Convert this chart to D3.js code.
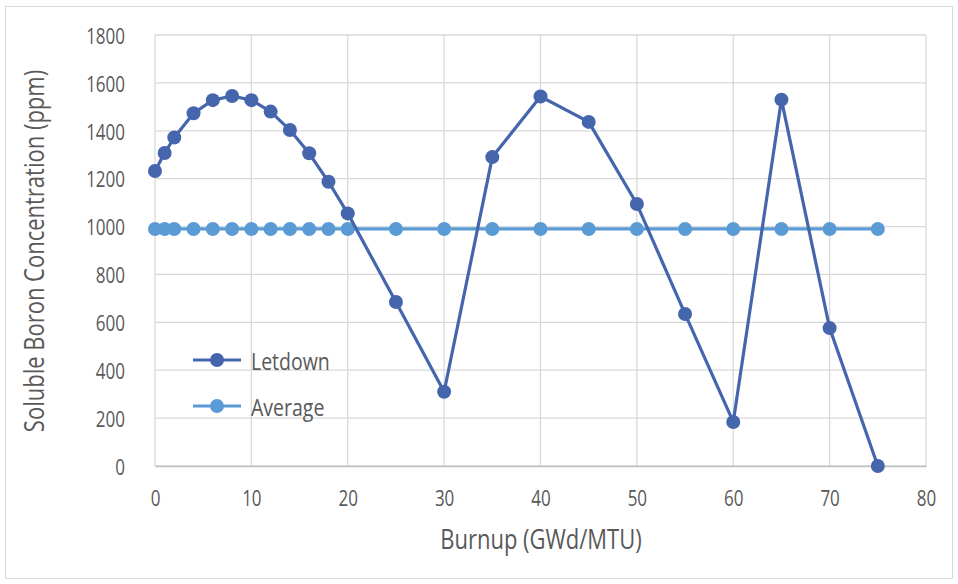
<!DOCTYPE html>
<html><head><meta charset="utf-8">
<script src="https://cdn.jsdelivr.net/npm/d3@7"></script>
<style>body{margin:0;background:#fff}svg{display:block}text{font-family:"Open Sans",sans-serif}</style>
</head><body>
<svg id="c" width="958" height="584"></svg>
<script>
const burnup = [0,1,2,4,6,8,10,12,14,16,18,20,25,30,35,40,45,50,55,60,65,70,75];
const letdown = [1232,1307,1372,1473,1528,1545,1528,1480,1403,1306,1187,1055,685,310,1290,1543,1437,1094,635,184,1530,576,0];
const average = [990,990,990,990,990,990,990,990,990,990,990,990,990,990,990,990,990,990,990,990,990,990,990];
const xTicks = [0,10,20,30,40,50,60,70,80];
const yTicks = [0,200,400,600,800,1000,1200,1400,1600,1800];
const seriesNames = ["Letdown","Average"];
const colors = ["#4565AD","#5B9BD5"];
const SY = 1.25;
function stretch(sel){
  sel.each(function(){
    const b = this.getBBox();
    const cy = b.y + b.height/2;
    d3.select(this).attr("transform", (d3.select(this).attr("transform")||"") + ` translate(0,${cy}) scale(1,${SY}) translate(0,${-cy})`);
  });
}

const svg = d3.select("#c");
svg.append("rect").attr("x",5.5).attr("y",6.5).attr("width",947).attr("height",572).attr("fill","#fff").attr("stroke","#d9d9d9");
const x = d3.scaleLinear().domain([0,80]).range([155,926]);
const y = d3.scaleLinear().domain([0,1800]).range([466,35]);

const g = svg.append("g");
g.selectAll(".gx").data(xTicks).join("line").attr("x1",d=>x(d)).attr("x2",d=>x(d)).attr("y1",y(0)).attr("y2",y(1800)).attr("stroke","#d9d9d9").attr("stroke-width",1.3);
g.selectAll(".gy").data(yTicks).join("line").attr("y1",d=>y(d)).attr("y2",d=>y(d)).attr("x1",x(0)).attr("x2",x(80)).attr("stroke","#d9d9d9").attr("stroke-width",1.3);

const xa = svg.append("g").attr("transform",`translate(0,${y(0)})`).call(d3.axisBottom(x).tickValues(xTicks).tickFormat(d3.format("d")).tickSize(0).tickPadding(32));
xa.select(".domain").attr("stroke","#bfbfbf").attr("stroke-width",1.3);
xa.selectAll("text").attr("fill","#595959").style("font-size","17px").attr("dy","0").attr("dominant-baseline","central").call(stretch);
const ya = svg.append("g").attr("transform",`translate(${x(0)},0)`).call(d3.axisLeft(y).tickValues(yTicks).tickFormat(d3.format("d")).tickSize(0).tickPadding(30));
ya.select(".domain").remove();
ya.selectAll("text").attr("fill","#595959").style("font-size","17px").attr("dy","0").attr("dominant-baseline","central").call(stretch);

svg.append("text").attr("x",541).attr("y",538).attr("text-anchor","middle").attr("dominant-baseline","central").attr("fill","#595959").style("font-size","22px").text("Burnup (GWd/MTU)").call(stretch);
svg.append("text").attr("transform","translate(33,251) rotate(-90)").attr("text-anchor","middle").attr("dominant-baseline","central").attr("fill","#595959").style("font-size","22px").text("Soluble Boron Concentration (ppm)").call(stretch);

const data = [letdown, average];
const line = d3.line().x((d,i)=>x(burnup[i])).y(d=>y(d));
[1,0].forEach(k=>{
  const s = svg.append("g");
  s.append("path").datum(data[k]).attr("d",line).attr("fill","none").attr("stroke",colors[k]).attr("stroke-width",3.2).attr("stroke-linejoin","round");
  s.selectAll("circle").data(data[k]).join("circle").attr("cx",(d,i)=>x(burnup[i])).attr("cy",d=>y(d)).attr("r",7).attr("fill",colors[k]);
});

const leg = svg.append("g");
seriesNames.forEach((n,i)=>{
  const yy = 360 + i*46;
  leg.append("line").attr("x1",193).attr("x2",241).attr("y1",yy).attr("y2",yy).attr("stroke",colors[i]).attr("stroke-width",3.2);
  leg.append("circle").attr("cx",217).attr("cy",yy).attr("r",7).attr("fill",colors[i]);
  leg.append("text").attr("x",251).attr("y",yy).attr("dominant-baseline","central").attr("fill","#595959").style("font-size","19.5px").text(n).call(stretch);
});
</script>
</body></html>
